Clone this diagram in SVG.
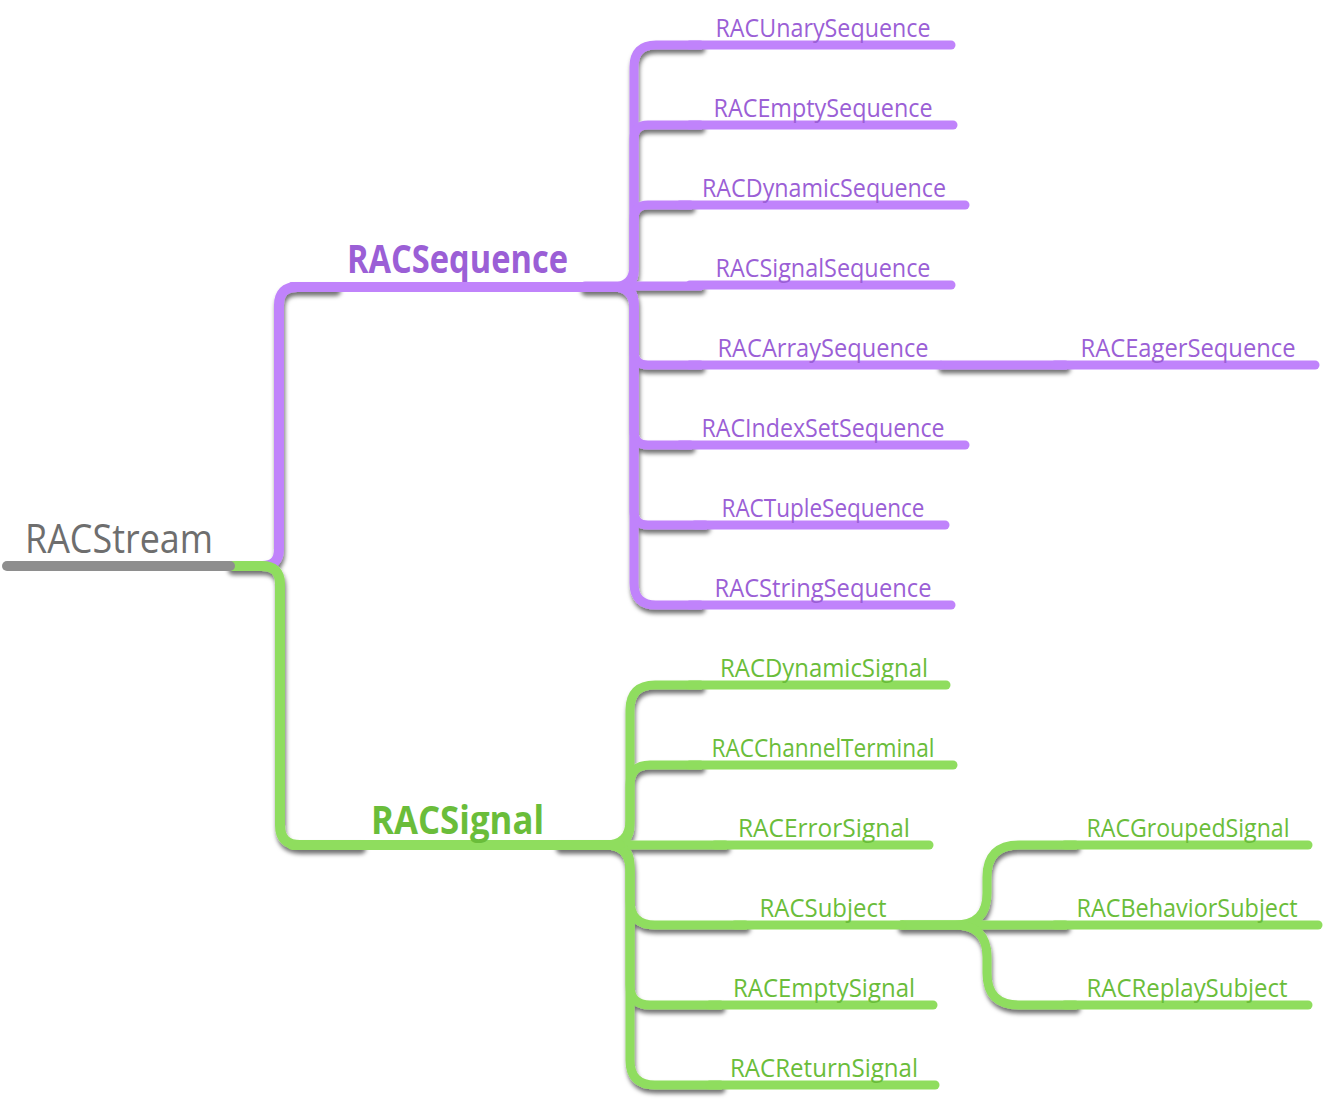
<svg xmlns="http://www.w3.org/2000/svg" width="1324" height="1118" viewBox="0 0 1324 1118">
<defs>
<filter id="sh" x="-10%" y="-10%" width="120%" height="130%">
<feDropShadow dx="1" dy="4" stdDeviation="2" flood-color="#000" flood-opacity="0.55"/>
</filter>
</defs>
<style>
.ln{fill:none;stroke-linecap:round;stroke-linejoin:round}
.gray{stroke:#8e8e8e;stroke-width:10}
.pu{stroke:#c083fb;stroke-width:9}
.pu2{stroke:#c083fb;stroke-width:10}
.gr{stroke:#8fdd5e;stroke-width:9}
.gr2{stroke:#8fdd5e;stroke-width:10}
text{font-family:"Open Sans","Liberation Sans",sans-serif}
.t1{font-size:40px;fill:#6e6e6e}
.t2p{font-size:40px;font-weight:bold;fill:#9b5fd6}
.t2g{font-size:40px;font-weight:bold;fill:#6abd3a}
.tp{font-size:25px;fill:#9b5fd6;text-anchor:middle}
.tg{font-size:25px;fill:#6abd3a;text-anchor:middle}
</style>
<g id="connectors">
<g filter="url(#sh)">
<path class="ln pu2" d="M240 566 H262 Q279 566 279 549 V305 Q279 287 297 287 H335"/>
<path class="ln gr2" d="M232 566 H262 Q280 566 280 584 V825 Q280 845 300 845 H360"/>
<path class="ln pu" d="M585 287 H612 Q634 287 634 265 V67 Q634 45 656 45 H700"/>
<path class="ln pu" d="M585 287 H618 Q634 287 634 271 V139 Q634 125 648 125 H700"/>
<path class="ln pu" d="M585 287 H618 Q634 287 634 271 V219 Q634 205 648 205 H690"/>
<path class="ln pu" d="M585 286 H700"/>
<path class="ln pu" d="M585 287 H618 Q634 287 634 303 V351 Q634 365 648 365 H700"/>
<path class="ln pu" d="M585 287 H618 Q634 287 634 303 V431 Q634 445 648 445 H690"/>
<path class="ln pu" d="M585 287 H618 Q634 287 634 303 V511 Q634 525 648 525 H705"/>
<path class="ln pu" d="M585 287 H612 Q634 287 634 309 V583 Q634 605 656 605 H700"/>
<path class="ln pu" d="M942 365 H1065"/>
<path class="ln gr" d="M560 845 H605 Q630 845 630 820 V710 Q630 685 655 685 H700"/>
<path class="ln gr" d="M560 845 H610 Q630 845 630 825 V785 Q630 765 650 765 H700"/>
<path class="ln gr" d="M560 845 H725"/>
<path class="ln gr" d="M560 845 H605 Q630 845 630 870 V900 Q630 925 655 925 H745"/>
<path class="ln gr" d="M560 845 H610 Q630 845 630 865 V985 Q630 1005 650 1005 H720"/>
<path class="ln gr" d="M560 845 H605 Q630 845 630 870 V1060 Q630 1085 655 1085 H720"/>
<path class="ln gr" d="M902 925 H955 Q987 925 987 893 V877 Q987 845 1019 845 H1075"/>
<path class="ln gr" d="M902 925 H1065"/>
<path class="ln gr" d="M902 925 H955 Q987 925 987 957 V973 Q987 1005 1019 1005 H1075"/>
</g>
</g>
<g id="n-root"><path class="ln gray" d="M7 566 H230"/><text class="t1" x="25" y="553" textLength="188" lengthAdjust="spacingAndGlyphs">RACStream</text></g>
<g id="n-seq"><path class="ln pu2" d="M292 287 H627"/><text class="t2p" x="347" y="273" textLength="221" lengthAdjust="spacingAndGlyphs">RACSequence</text></g>
<g id="n-sig"><path class="ln gr2" d="M292 845 H620"/><text class="t2g" x="371" y="834" textLength="173" lengthAdjust="spacingAndGlyphs">RACSignal</text></g>
<g id="n-unary"><path class="ln pu" d="M690 45 H951"/><text class="tp" x="823" y="37" textLength="215" lengthAdjust="spacingAndGlyphs">RACUnarySequence</text></g>
<g id="n-emptyseq"><path class="ln pu" d="M690 125 H953"/><text class="tp" x="823" y="117" textLength="219" lengthAdjust="spacingAndGlyphs">RACEmptySequence</text></g>
<g id="n-dynseq"><path class="ln pu" d="M680 205 H965"/><text class="tp" x="824" y="197" textLength="244" lengthAdjust="spacingAndGlyphs">RACDynamicSequence</text></g>
<g id="n-sigseq"><path class="ln pu" d="M690 285 H951"/><text class="tp" x="823" y="277" textLength="215" lengthAdjust="spacingAndGlyphs">RACSignalSequence</text></g>
<g id="n-arrseq"><path class="ln pu" d="M690 365 H940"/><text class="tp" x="823" y="357" textLength="211" lengthAdjust="spacingAndGlyphs">RACArraySequence</text></g>
<g id="n-eager"><path class="ln pu" d="M1055 365 H1315"/><text class="tp" x="1188" y="357" textLength="215" lengthAdjust="spacingAndGlyphs">RACEagerSequence</text></g>
<g id="n-idxseq"><path class="ln pu" d="M680 445 H965"/><text class="tp" x="823" y="437" textLength="243" lengthAdjust="spacingAndGlyphs">RACIndexSetSequence</text></g>
<g id="n-tupseq"><path class="ln pu" d="M695 525 H945"/><text class="tp" x="823" y="517" textLength="203" lengthAdjust="spacingAndGlyphs">RACTupleSequence</text></g>
<g id="n-strseq"><path class="ln pu" d="M690 605 H951"/><text class="tp" x="823" y="597" textLength="217" lengthAdjust="spacingAndGlyphs">RACStringSequence</text></g>
<g id="n-dynsig"><path class="ln gr" d="M690 685 H946"/><text class="tg" x="824" y="677" textLength="208" lengthAdjust="spacingAndGlyphs">RACDynamicSignal</text></g>
<g id="n-chan"><path class="ln gr" d="M690 765 H953"/><text class="tg" x="823" y="757" textLength="223" lengthAdjust="spacingAndGlyphs">RACChannelTerminal</text></g>
<g id="n-err"><path class="ln gr" d="M715 845 H929"/><text class="tg" x="824" y="837" textLength="172" lengthAdjust="spacingAndGlyphs">RACErrorSignal</text></g>
<g id="n-subj"><path class="ln gr" d="M735 925 H902"/><text class="tg" x="823" y="917" textLength="127" lengthAdjust="spacingAndGlyphs">RACSubject</text></g>
<g id="n-emptysig"><path class="ln gr" d="M710 1005 H933"/><text class="tg" x="824" y="997" textLength="182" lengthAdjust="spacingAndGlyphs">RACEmptySignal</text></g>
<g id="n-ret"><path class="ln gr" d="M710 1085 H935"/><text class="tg" x="824" y="1077" textLength="188" lengthAdjust="spacingAndGlyphs">RACReturnSignal</text></g>
<g id="n-grouped"><path class="ln gr" d="M1065 845 H1308"/><text class="tg" x="1188" y="837" textLength="203" lengthAdjust="spacingAndGlyphs">RACGroupedSignal</text></g>
<g id="n-behav"><path class="ln gr" d="M1055 925 H1318"/><text class="tg" x="1187" y="917" textLength="221" lengthAdjust="spacingAndGlyphs">RACBehaviorSubject</text></g>
<g id="n-replay"><path class="ln gr" d="M1065 1005 H1308"/><text class="tg" x="1187" y="997" textLength="201" lengthAdjust="spacingAndGlyphs">RACReplaySubject</text></g>
</svg>
